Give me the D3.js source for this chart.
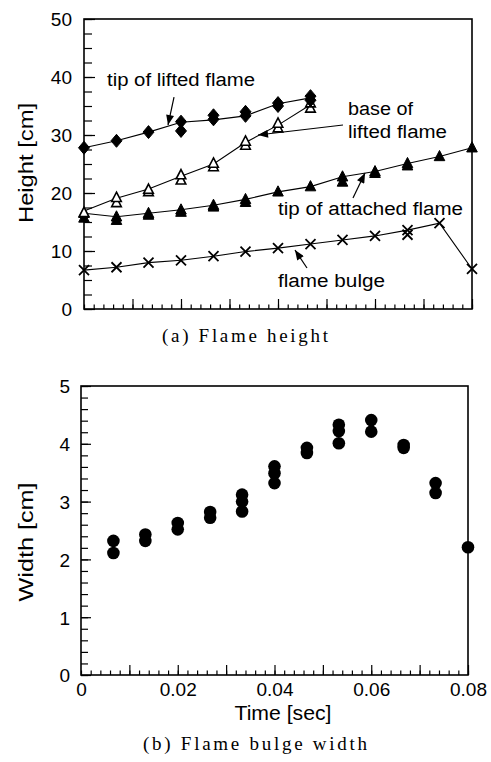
<!DOCTYPE html>
<html><head><meta charset="utf-8">
<script src="https://cdn.jsdelivr.net/npm/d3@7"></script>
<style>
body{margin:0;background:#fff}
text{font-family:"Liberation Sans",Arial,Helvetica,sans-serif;fill:#000}
.serif{font-family:"Liberation Serif","Times New Roman",serif}
</style></head>
<body><svg id="c" width="491" height="762"></svg>
<script>
// ---------- data ----------
const times = [0, 0.0067, 0.0133, 0.02, 0.0267, 0.0333, 0.04, 0.0467, 0.0533, 0.06, 0.0667, 0.0733, 0.08];

// (a) Flame height [cm]
const tipLiftedA   = [27.8, 29.0, 30.5, 32.3, 33.4, 34.0, 35.5, 36.7];
const tipLiftedB   = [null, null, null, 30.7, 32.7, 33.3, 35.0, 36.0];
const tipLiftedLine= [27.8, 29.0, 30.5, 32.2, 32.6, 33.3, 35.4, 36.4];

const baseLiftedA   = [16.6, 19.2, 20.6, 23.1, 25.1, 28.9, 32.0, 35.5];
const baseLiftedB   = [null, 18.3, 20.2, 22.2, 24.5, 28.2, 31.2, 34.6];
const baseLiftedLine= [16.9, 19.1, 20.7, 22.9, 25.0, 28.7, 31.7, 35.2];

const tipAttachedA = [16.5, 15.9, 16.5, 17.1, 17.9, 18.9, 20.2, 21.1, 22.8, 23.7, 25.1, 26.3, 27.8];
const tipAttachedB = [15.7, 15.3, 16.2, 16.7, 17.6, 18.4, null, null, 21.9, 23.4, 24.7, null, null];

const bulgeA = [6.7, 7.2, 8.0, 8.4, 9.1, 9.9, 10.5, 11.2, 11.9, 12.6, 13.6, 14.8, 6.9];
const bulgeB = [null, null, null, null, null, null, null, null, null, null, 12.8, null, null];

// (b) Flame bulge width [cm]
const widthA = [null, 2.32, 2.43, 2.63, 2.82, 3.12, 3.61, 3.93, 4.33, 4.41, 3.98, 3.32, 2.21];
const widthB = [null, 2.11, 2.32, 2.52, 2.72, 3.00, 3.49, 3.84, 4.22, 4.21, 3.93, 3.15, null];
const widthC = [null, null, null, null, null, 2.83, 3.32, null, 4.01, null, null, null, null];

const yTopTicks = [0, 10, 20, 30, 40, 50];
const yBotTicks = [0, 1, 2, 3, 4, 5];
const xBotTicks = [0, 0.02, 0.04, 0.06, 0.08];
const xBotTickLabels = ["0", "0.02", "0.04", "0.06", "0.08"];

// annotations (text / arrows in data units of panel a)
const notes = [
  {lines:["tip of lifted flame"], x:0.00474, y:38.45, w:[148], from:[0.01856,36.55], to:[0.01732,31.72]},
  {lines:["base of","lifted flame"], x:0.05443, y:33.45, w:[65,99], from:[0.0534,31.72], to:[0.03588,30.0]},
  {lines:["tip of attached flame"], x:0.04, y:16.2, w:[185], from:[0.05546,19.14], to:[0.05794,23.45]},
  {lines:["flame bulge"], x:0.04, y:3.79, w:[107], from:[0.04598,7.07], to:[0.0435,10.17]}
];

// ---------- drawing ----------
const svg = d3.select("#c");
svg.append("defs").append("marker").attr("id","ah")
  .attr("viewBox","0 0 10 8").attr("refX",10).attr("refY",4)
  .attr("markerWidth",11).attr("markerHeight",8).attr("markerUnits","userSpaceOnUse")
  .attr("orient","auto")
  .append("path").attr("d","M0,0 L10,4 L0,8 Z").attr("fill","#000");

function frame(g, x, y){
  g.append("rect").attr("x",x.range()[0]).attr("y",y.range()[1])
   .attr("width",x.range()[1]-x.range()[0]).attr("height",y.range()[0]-y.range()[1])
   .attr("fill","none").attr("stroke","#000").attr("stroke-width",1.6);
}
function styleAxis(sel){ sel.select(".domain").remove(); sel.selectAll("line").attr("stroke","#000").attr("stroke-width",1.2); }

// ---- panel (a)
const xA = d3.scaleLinear([0,0.08],[84,472]);
const yA = d3.scaleLinear([0,50],[309,19]);
const gA = svg.append("g");

gA.append("g").attr("transform",`translate(0,${yA(0)})`)
  .call(d3.axisBottom(xA).tickValues(d3.range(0,0.0801,0.002)).tickSize(-4.5).tickFormat("")).call(styleAxis);
gA.append("g").attr("transform",`translate(0,${yA(0)})`)
  .call(d3.axisBottom(xA).tickValues(d3.range(0.01,0.0801,0.01)).tickSize(-10).tickFormat("")).call(styleAxis);
gA.append("g").attr("transform",`translate(${xA(0)},0)`)
  .call(d3.axisLeft(yA).tickValues(d3.range(0,50.1,2.5)).tickSize(-8).tickFormat("")).call(styleAxis);
gA.append("g").attr("transform",`translate(${xA(0)},0)`)
  .call(d3.axisLeft(yA).tickValues(yTopTicks).tickSize(-11).tickPadding(12).tickFormat(d3.format("d"))).call(styleAxis)
  .selectAll("text").style("font-size","19px").attr("dy","0.36em");
frame(gA, xA, yA);

const line = d3.line().defined(d=>d[1]!=null).x(d=>xA(d[0])).y(d=>yA(d[1]));
function pairs(vals){ return vals.map((v,i)=>[times[i], v]); }
[tipLiftedLine, baseLiftedLine, tipAttachedA, bulgeA].forEach(arr=>{
  gA.append("path").attr("d", line(pairs(arr))).attr("fill","none").attr("stroke","#000").attr("stroke-width",1.1);
});

const diamond = "M0,-6.5 L5.5,0 L0,6.5 L-5.5,0 Z";
const tri = "M0,-6 L5.3,4.2 L-5.3,4.2 Z";
const triO = "M0,-5.5 L4.8,3.8 L-4.8,3.8 Z";
const cross = "M-5,-5 L5,5 M-5,5 L5,-5";
function marks(vals, path, fill, sw){
  gA.append("g").selectAll("path").data(pairs(vals).filter(d=>d[1]!=null)).join("path")
    .attr("transform",d=>`translate(${xA(d[0])},${yA(d[1])})`)
    .attr("d",path).attr("fill",fill).attr("stroke","#000").attr("stroke-width",sw);
}
marks(tipAttachedA, tri, "#000", 1); marks(tipAttachedB, tri, "#000", 1);
marks(baseLiftedB, triO, "#fff", 1.6); marks(baseLiftedA, triO, "#fff", 1.6);
marks(tipLiftedB, diamond, "#000", 1); marks(tipLiftedA, diamond, "#000", 1);
marks(bulgeA, cross, "none", 1.8); marks(bulgeB, cross, "none", 1.8);

notes.forEach(n=>{
  n.lines.forEach((t,i)=>{
    gA.append("text").attr("x",xA(n.x)).attr("y",yA(n.y)+i*23).text(t)
      .style("font-size","18px").attr("textLength",n.w[i]).attr("lengthAdjust","spacingAndGlyphs");
  });
  gA.append("line").attr("x1",xA(n.from[0])).attr("y1",yA(n.from[1]))
    .attr("x2",xA(n.to[0])).attr("y2",yA(n.to[1]))
    .attr("stroke","#000").attr("stroke-width",1.2).attr("marker-end","url(#ah)");
});

gA.append("text").attr("transform","translate(33,163) rotate(-90)").attr("text-anchor","middle")
  .style("font-size","20px").attr("textLength",120).attr("lengthAdjust","spacingAndGlyphs").text("Height [cm]");
svg.append("text").attr("class","serif").attr("x",245).attr("y",342).attr("text-anchor","middle")
  .style("font-size","19px").attr("textLength",166).attr("lengthAdjust","spacing").text("(a)  Flame height");

// ---- panel (b)
const xB = d3.scaleLinear([0,0.08],[81,468]);
const yB = d3.scaleLinear([0,5],[675,386]);
const gB = svg.append("g");
gB.append("g").attr("transform",`translate(0,${yB(0)})`)
  .call(d3.axisBottom(xB).tickValues(d3.range(0,0.0801,0.002)).tickSize(-4.5).tickFormat("")).call(styleAxis);
gB.append("g").attr("transform",`translate(0,${yB(0)})`)
  .call(d3.axisBottom(xB).tickValues(d3.range(0.01,0.0801,0.01)).tickSize(-10).tickFormat("")).call(styleAxis);
gB.append("g").attr("transform",`translate(0,${yB(0)})`)
  .call(d3.axisBottom(xB).tickValues(xBotTicks).tickSize(0).tickPadding(8).tickFormat((d,i)=>xBotTickLabels[i])).call(styleAxis)
  .selectAll("text").style("font-size","19px");
gB.append("g").attr("transform",`translate(${xB(0)},0)`)
  .call(d3.axisLeft(yB).tickValues(d3.range(0,5.01,0.2)).tickSize(-7).tickFormat("")).call(styleAxis);
gB.append("g").attr("transform",`translate(${xB(0)},0)`)
  .call(d3.axisLeft(yB).tickValues(yBotTicks).tickSize(-10).tickPadding(11).tickFormat(d3.format("d"))).call(styleAxis)
  .selectAll("text").style("font-size","19px").attr("dy","0.36em");
frame(gB, xB, yB);

[widthA, widthB, widthC].forEach(arr=>{
  gB.append("g").selectAll("circle").data(arr.map((v,i)=>[times[i],v]).filter(d=>d[1]!=null)).join("circle")
    .attr("cx",d=>xB(d[0])).attr("cy",d=>yB(d[1])).attr("r",6.3).attr("fill","#000");
});

gB.append("text").attr("transform","translate(33,542) rotate(-90)").attr("text-anchor","middle")
  .style("font-size","20px").attr("textLength",119).attr("lengthAdjust","spacingAndGlyphs").text("Width [cm]");
gB.append("text").attr("x",283).attr("y",720).attr("text-anchor","middle")
  .style("font-size","20px").attr("textLength",97).attr("lengthAdjust","spacingAndGlyphs").text("Time [sec]");
svg.append("text").attr("class","serif").attr("x",255).attr("y",750).attr("text-anchor","middle")
  .style("font-size","19px").attr("textLength",224).attr("lengthAdjust","spacing").text("(b)  Flame bulge width");
</script></body></html>
